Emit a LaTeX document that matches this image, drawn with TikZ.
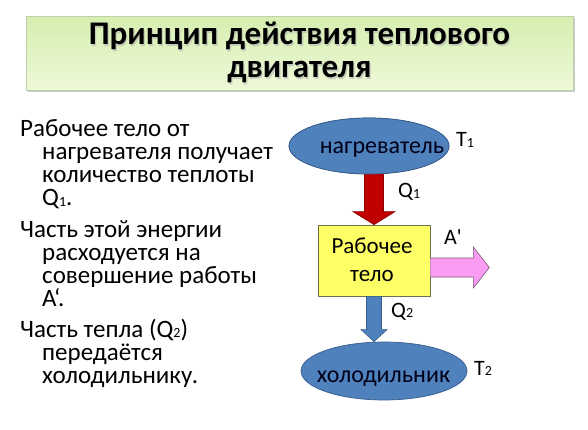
\documentclass[tikz,border=0pt]{standalone}
\usepackage{fontspec}
\setmainfont{Carlito}
\usetikzlibrary{calc,shadows,shapes.geometric}
\definecolor{ttop}{HTML}{D6EEB0}
\definecolor{tbot}{HTML}{EEF9D8}
\definecolor{tline}{HTML}{BFD0A8}
\definecolor{ovalblue}{HTML}{4F81BD}
\definecolor{ovalline}{HTML}{385D8A}
\definecolor{boxyellow}{HTML}{FFFF66}
\definecolor{boxline}{HTML}{6F6F50}
\definecolor{arrred}{HTML}{C00000}
\definecolor{arrredline}{HTML}{8C0000}
\definecolor{arrpink}{HTML}{F99CF2}
\definecolor{arrpinkline}{HTML}{7A5A78}
\newcommand\lowidx[1]{\raisebox{-0.5pt}{\fontsize{14}{14}\selectfont #1}}
\tikzset{
  titlebox/.style={draw=tline, line width=0.6pt, top color=ttop, bottom color=tbot,
    drop shadow={shadow xshift=1.5pt, shadow yshift=-1.8pt, opacity=0.35, fill=black!60},
    minimum width=547pt, minimum height=74pt, inner sep=0pt},
  titletext/.style={font=\fontsize{33}{33}\selectfont\bfseries, inner sep=0pt, anchor=base},
  bodytext/.style={font=\fontsize{25}{25}\selectfont, inner sep=0pt, anchor=base west},
  lbl/.style={font=\fontsize{22}{22}\selectfont, inner sep=0pt, anchor=base west},
  oval/.style={ellipse, draw=ovalline, fill=ovalblue, line width=0.7pt, inner sep=0pt},
  ovaltext/.style={font=\fontsize{24}{24}\selectfont, text=black!90!blue, inner sep=0pt, anchor=base},
  workbox/.style={draw=boxline, fill=boxyellow, line width=0.7pt, minimum width=112pt,
    minimum height=71pt, inner sep=0pt},
  boxtext/.style={font=\fontsize{23}{23}\selectfont, inner sep=0pt, anchor=base},
  redarrow/.style={fill=arrred, draw=arrredline, line width=0.6pt, line join=miter},
  pinkarrow/.style={fill=arrpink, draw=arrpinkline, line width=0.6pt, line join=miter},
  bluearrow/.style={fill=ovalblue, draw=ovalline, line width=0.6pt, line join=miter},
}
\begin{document}
\begin{tikzpicture}[x=1pt,y=-1pt]
\useasboundingbox[fill=white] (0,0) rectangle (588,430);

% title
\node[titlebox, anchor=north west] (title) at (26,16) {};
\node[titletext, text=black!30, opacity=0.6] at (300.8,46.3) {Принцип действия теплового};
\node[titletext, text=black!30, opacity=0.6] at (300.8,79.3) {двигателя};
\node[titletext] (t1) at (299.5,45) {Принцип действия теплового};
\node[titletext] (t2) at (299.5,78) {двигателя};

% left text
\node[bodytext] (a1) at (20,137) {Рабочее тело от};
\node[bodytext] (a2) at (42,160) {нагревателя получает};
\node[bodytext] (a3) at (42,183) {количество теплоты};
\node[bodytext] (a4) at (42,206) {Q\lowidx{1}.};
\node[bodytext] (b1) at (20,237) {Часть этой энергии};
\node[bodytext] (b2) at (42,260) {расходуется на};
\node[bodytext] (b3) at (42,283) {совершение работы};
\node[bodytext] (b4) at (42,306) {А‘.};
\node[bodytext] (c1) at (20,337) {Часть тепла (Q\lowidx{2})};
\node[bodytext] (c2) at (42,360) {передаётся};
\node[bodytext] (c3) at (42,383) {холодильнику.};

% diagram nodes
\node[workbox] (body) at (374,260.5) {};
\node[oval, minimum width=160pt, minimum height=56pt] (heat) at (369,146) {};
\node[oval, minimum width=166pt, minimum height=58pt] (cold) at (384,371) {};

% red arrow heater -> body
\filldraw[redarrow]
  ($(heat.south -| body.north)+(-9.5,-3)$) -- ++(19,0)
  -- ($(body.north)+(9.5,-13)$) -- ++(11.5,0)
  -- (body.north)
  -- ($(body.north)+(-21,-13)$) -- ++(11.5,0) -- cycle;
% redraw heater on top of the arrow shaft
\node[oval, minimum width=160pt, minimum height=56pt] (heattop) at (heat.center) {};
\node[ovaltext] (heatlbl) at ($(heat.center)+(13,8)$) {нагреватель};

% pink arrow body -> work
\coordinate (worktip) at ($(body.east)+(59,7)$);
\filldraw[pinkarrow]
  ($(body.east)+(0,-2.5)$) -- ($(body.east)+(43,-2.5)$)
  -- ($(body.east)+(43,-13.5)$) -- (worktip)
  -- ($(body.east)+(43,27.5)$) -- ($(body.east)+(43,16.5)$)
  -- ($(body.east)+(0,16.5)$);

% blue arrow body -> cooler
\coordinate (coldtip) at (cold.north -| body.south);
\filldraw[bluearrow]
  ($(body.south)+(-7.5,0)$) -- ($(body.south)+(7.5,0)$)
  -- ($(coldtip)+(7.5,-12)$) -- ++(5.5,0)
  -- (coldtip)
  -- ($(coldtip)+(-13,-12)$) -- ++(5.5,0) -- cycle;

\node[ovaltext] (coldlbl) at ($(cold.center)+(-0.5,11)$) {холодильник};
\node[boxtext] (bodyl1) at ($(body.center)+(-2,-7.5)$) {Рабочее};
\node[boxtext] (bodyl2) at ($(body.center)+(-2,20.5)$) {тело};

% labels
\node[lbl] (T1) at (456,147) {T\lowidx{1}};
\node[lbl] (Q1) at (398,198) {Q\lowidx{1}};
\node[lbl] (Aw) at (444,244) {A\textquotesingle};
\node[lbl] (Q2) at (391,317) {Q\lowidx{2}};
\node[lbl] (T2) at (474,375) {T\lowidx{2}};
\end{tikzpicture}
\end{document}
